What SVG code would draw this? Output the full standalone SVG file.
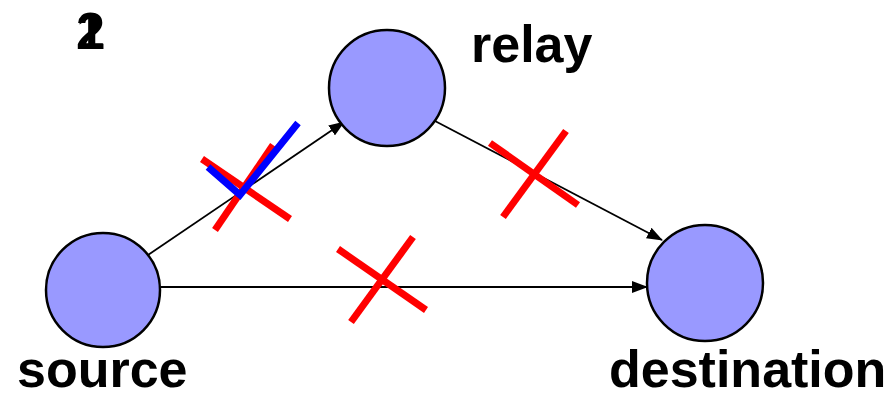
<svg xmlns="http://www.w3.org/2000/svg" width="892" height="398" viewBox="0 0 892 398">
<style>
.node{fill:#9999ff;stroke:#000;stroke-width:2.5}
.lbl{font-family:"Liberation Sans",Arial,sans-serif;font-weight:bold;font-size:52px;fill:#000}
.edge{stroke:#000;stroke-width:1.8;fill:none;marker-end:url(#arr)}
.x{stroke:#ff0000;stroke-width:7;fill:none}
.chk{stroke:#0000ff;stroke-width:7;fill:none;stroke-linejoin:miter}
</style>
<defs>
<marker id="arr" markerUnits="userSpaceOnUse" markerWidth="16" markerHeight="12" refX="15" refY="6" orient="auto">
<path d="M0,0 L16,6 L0,12 Z" fill="#000"/>
</marker>
</defs>
<rect width="892" height="398" fill="#fff"/>
<g id="step">
<text class="lbl" x="76" y="49">1</text>
<text class="lbl" x="76" y="49">2</text>
</g>
<g id="connectors">
<line class="edge" x1="148" y1="255" x2="344" y2="122"/>
<line class="edge" x1="435" y1="121" x2="662" y2="240"/>
<line class="edge" x1="161" y1="287" x2="647" y2="287"/>
</g>
<g id="source">
<circle class="node" cx="103" cy="290" r="57"/>
<text class="lbl" x="17" y="387">source</text>
</g>
<g id="relay">
<circle class="node" cx="387" cy="88" r="58"/>
<text class="lbl" x="471" y="62">relay</text>
</g>
<g id="destination">
<circle class="node" cx="705" cy="283" r="58"/>
<text class="lbl" x="609" y="387">destination</text>
</g>
<g id="marks">
<line class="x" x1="202" y1="159" x2="290" y2="219"/>
<line class="x" x1="215" y1="230" x2="273" y2="145"/>
<polyline class="chk" points="208,167 240,195 298,123"/>
<line class="x" x1="490" y1="143" x2="578" y2="205"/>
<line class="x" x1="503" y1="217" x2="566" y2="131"/>
<line class="x" x1="338" y1="249" x2="426" y2="310"/>
<line class="x" x1="351" y1="322" x2="413" y2="237"/>
</g>
</svg>
